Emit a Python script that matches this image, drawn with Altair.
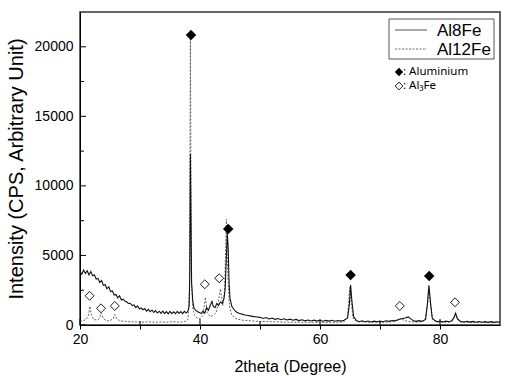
import altair as alt
import pandas as pd

# ---- data ----
al8fe = [
    (20.0, 3850), (20.3, 3650), (20.6, 3950), (20.9, 3700), (21.2, 3900), (21.5, 3600),
    (21.8, 3850), (22.1, 3550), (22.4, 3600), (22.7, 3300), (23.0, 3350), (23.3, 3050),
    (23.6, 3200), (23.9, 2850), (24.2, 2900), (24.5, 2600), (24.8, 2750), (25.1, 2400),
    (25.4, 2450), (25.7, 2150), (26.0, 2200), (26.3, 1950), (26.6, 2100), (26.9, 1800),
    (27.2, 1850), (27.5, 1700), (27.8, 1650), (28.1, 1550), (28.4, 1550), (28.7, 1400),
    (29.0, 1450), (29.3, 1250), (29.6, 1380), (29.9, 1150), (30.2, 1220), (30.5, 1100),
    (30.8, 1180), (31.1, 1000), (31.4, 1120), (31.7, 950), (32.0, 1080), (32.3, 900),
    (32.6, 1030), (32.9, 860), (33.2, 990), (33.5, 830), (33.8, 1000), (34.1, 820),
    (34.4, 960), (34.7, 800), (35.0, 980), (35.3, 820), (35.6, 950), (35.9, 810),
    (36.2, 980), (36.5, 830), (36.8, 960), (37.1, 820), (37.4, 980), (37.7, 860),
    (38.0, 1000), (38.2, 1400), (38.3, 4000), (38.4, 12300), (38.5, 7400), (38.6, 3000),
    (38.8, 1700), (39.0, 1200), (39.3, 1050), (39.6, 950), (39.9, 900), (40.2, 820),
    (40.5, 1000), (40.8, 850), (41.1, 1250), (41.4, 1050), (41.7, 1400), (42.0, 1700),
    (42.2, 1350), (42.5, 1250), (42.8, 1550), (43.1, 1400), (43.4, 1650), (43.7, 1550),
    (44.0, 1900), (44.2, 2600), (44.4, 5000), (44.55, 6600), (44.7, 5500), (44.85, 3000),
    (45.0, 1900), (45.3, 1350), (45.6, 1150), (46.0, 950), (46.5, 850), (47.0, 780),
    (47.5, 720), (48.0, 680), (48.5, 640), (49.0, 600), (49.5, 580), (50.0, 550),
    (50.5, 470), (51.0, 540), (51.5, 430), (52.0, 500), (52.5, 410), (53.0, 470),
    (53.5, 380), (54.0, 450), (54.5, 360), (55.0, 420), (55.5, 340), (56.0, 400),
    (56.5, 320), (57.0, 380), (57.5, 300), (58.0, 360), (58.5, 290), (59.0, 350),
    (59.5, 280), (60.0, 340), (60.5, 270), (61.0, 330), (61.5, 280), (62.0, 340),
    (62.5, 270), (63.0, 320), (63.5, 280), (64.0, 340), (64.6, 500), (64.9, 1500),
    (65.1, 2880), (65.3, 1800), (65.6, 600), (66.0, 350), (66.5, 240), (67.0, 300),
    (67.5, 230), (68.0, 290), (68.5, 220), (69.0, 280), (69.5, 230), (70.0, 290),
    (70.5, 240), (71.0, 300), (71.5, 260), (72.0, 320), (72.5, 300), (73.0, 380),
    (73.6, 450), (74.2, 500), (74.7, 580), (75.2, 420), (75.6, 300), (76.0, 260),
    (76.5, 310), (77.0, 260), (77.6, 400), (77.9, 1500), (78.15, 2850), (78.4, 1700),
    (78.7, 500), (79.2, 300), (79.6, 230), (80.0, 290), (80.5, 220), (81.0, 280),
    (81.5, 230), (82.0, 300), (82.4, 600), (82.6, 850), (82.9, 450), (83.4, 260),
    (84.0, 220), (84.5, 270), (85.0, 210), (85.5, 260), (86.0, 200), (86.5, 250),
    (87.0, 200), (87.5, 240), (88.0, 190), (88.5, 240), (89.0, 190), (89.5, 230),
    (90.0, 200),
]

al12fe = [
    (20.0, 250), (20.5, 300), (21.0, 400), (21.4, 700), (21.65, 1350), (21.9, 700),
    (22.3, 400), (22.8, 350), (23.2, 450), (23.55, 850), (23.9, 450), (24.5, 300),
    (25.0, 320), (25.5, 450), (25.8, 750), (26.1, 450), (26.6, 300), (27.5, 260),
    (28.5, 230), (29.5, 220), (30.5, 200), (31.5, 230), (32.5, 200), (33.5, 220),
    (34.5, 200), (35.5, 240), (36.5, 200), (37.5, 260), (38.0, 400), (38.25, 2500),
    (38.4, 20800), (38.55, 3500), (38.8, 1200), (39.1, 700), (39.5, 500), (40.0, 450),
    (40.5, 700), (40.9, 2000), (41.2, 900), (41.7, 600), (42.2, 700), (42.7, 900),
    (43.0, 1500), (43.4, 2600), (43.8, 1400), (44.1, 2500), (44.4, 7600), (44.6, 4000),
    (44.9, 1400), (45.3, 700), (46.0, 450), (47.0, 350), (48.5, 300), (50.0, 250),
    (52.5, 230), (55.0, 200), (57.5, 200), (60.0, 190), (62.5, 190), (64.0, 220),
    (64.6, 600), (64.95, 2700), (65.2, 1700), (65.5, 500), (66.0, 250), (68.0, 200),
    (70.0, 190), (72.0, 220), (73.0, 350), (73.5, 480), (74.0, 330), (75.0, 230),
    (76.5, 200), (77.5, 350), (77.9, 1400), (78.15, 2700), (78.4, 1500), (78.8, 350),
    (80.0, 200), (81.5, 200), (82.2, 450), (82.55, 800), (82.9, 400), (83.5, 200),
    (85.0, 180), (87.5, 170), (90.0, 170),
]

aluminium_x = [38.5, 44.7, 65.1, 78.2]
aluminium_y = [20850, 6900, 3600, 3520]
al3fe_x = [21.6, 23.5, 25.8, 40.8, 43.2, 73.3, 82.5]
al3fe_y = [2100, 1200, 1370, 2930, 3360, 1370, 1630]

x_all = [20, 30, 40, 50, 60, 70, 80]
x_major = [20, 40, 60, 80]
x_minor = [30, 50, 70]
y_major = [0, 5000, 10000, 15000, 20000]
y_minor = [2500, 7500, 12500, 17500]

W, H = 420, 313
FONT = "Liberation Sans"

df8 = pd.DataFrame(al8fe, columns=["x", "y"])
df12 = pd.DataFrame(al12fe, columns=["x", "y"])
df_al = pd.DataFrame({"x": aluminium_x, "y": aluminium_y})
df_a3 = pd.DataFrame({"x": al3fe_x, "y": al3fe_y})

xs = alt.Scale(domain=[20, 90], nice=False, zero=False)
ys = alt.Scale(domain=[0, 22500], nice=False)

x_axis = alt.Axis(
    values=x_all, labelExpr="datum.value % 20 == 0 ? datum.label : ''",
    title="2theta (Degree)", grid=False, tickSize=4, tickColor="black",
    labelPadding=3, labelFontSize=14, labelFont=FONT, labelColor="black",
    titleFontSize=16, titleFont=FONT, titleFontWeight="normal", titleColor="black",
    titlePadding=12, domainColor="black", labelFlush=False,
)
y_axis = alt.Axis(
    values=y_major, format="d", title="Intensity (CPS, Arbitrary Unit)", grid=False,
    ticks=False, labelPadding=7, labelFontSize=14, labelFont=FONT, labelColor="black",
    titleFontSize=20, titleFont=FONT, titleFontWeight="normal", titleColor="black",
    titlePadding=8, domainColor="black",
)


def X(field="x"):
    return alt.X(f"{field}:Q", scale=xs, axis=x_axis, title="2theta (Degree)")


def Y(field="y"):
    return alt.Y(f"{field}:Q", scale=ys, axis=y_axis, title="Intensity (CPS, Arbitrary Unit)")


line12 = alt.Chart(df12).mark_line(
    color="#666666", strokeWidth=1, strokeDash=[2, 1.5]
).encode(x=X(), y=Y())

line8 = alt.Chart(df8).mark_line(color="#111111", strokeWidth=1.1).encode(x=X(), y=Y())

pts_al = alt.Chart(df_al).mark_point(
    shape="diamond", size=110, filled=True, color="black", opacity=1
).encode(x=X(), y=Y())

pts_a3 = alt.Chart(df_a3).mark_point(
    shape="diamond", size=80, filled=False, stroke="black", fill="white",
    fillOpacity=1, strokeWidth=0.9, opacity=1
).encode(x=X(), y=Y())

# inward ticks
xt_major = alt.Chart(pd.DataFrame({"x": x_major})).mark_rule(color="black", strokeWidth=1).encode(
    x=X(), y=alt.value(H), y2=alt.value(H - 6))
xt_minor = alt.Chart(pd.DataFrame({"x": x_minor})).mark_rule(color="black", strokeWidth=1).encode(
    x=X(), y=alt.value(H), y2=alt.value(H - 4))
yt_major = alt.Chart(pd.DataFrame({"y": y_major})).mark_rule(color="black", strokeWidth=1).encode(
    y=Y(), x=alt.value(0), x2=alt.value(6))
yt_minor = alt.Chart(pd.DataFrame({"y": y_minor})).mark_rule(color="black", strokeWidth=1).encode(
    y=Y(), x=alt.value(0), x2=alt.value(4))

# legend (drawn)
one = pd.DataFrame({"k": [0]})
leg_box = alt.Chart(one).mark_rect(fill="white", stroke="#555", strokeWidth=1).encode(
    x=alt.value(309), x2=alt.value(414), y=alt.value(7), y2=alt.value(47))
leg_l1 = alt.Chart(one).mark_rule(color="#555", strokeWidth=1).encode(
    x=alt.value(315), x2=alt.value(347), y=alt.value(18))
leg_l2 = alt.Chart(one).mark_rule(color="#6a6a6a", strokeWidth=1, strokeDash=[2, 1.5]).encode(
    x=alt.value(315), x2=alt.value(347), y=alt.value(37))
leg_t1 = alt.Chart(one).mark_text(
    text="Al8Fe", align="left", baseline="middle", fontSize=17, font=FONT, color="black"
).encode(x=alt.value(357), y=alt.value(19))
leg_t2 = alt.Chart(one).mark_text(
    text="Al12Fe", align="left", baseline="middle", fontSize=17, font=FONT, color="black"
).encode(x=alt.value(357), y=alt.value(38))

leg_d1 = alt.Chart(one).mark_point(shape="diamond", size=70, filled=True, color="black", opacity=1).encode(
    x=alt.value(319), y=alt.value(60))
leg_d2 = alt.Chart(one).mark_point(shape="diamond", size=60, filled=False, stroke="black",
                                   strokeWidth=0.9, opacity=1).encode(
    x=alt.value(319), y=alt.value(74))
leg_s1 = alt.Chart(one).mark_text(
    text=": Aluminium", align="left", baseline="middle", fontSize=11.5, font="Noto Sans", color="black"
).encode(x=alt.value(323), y=alt.value(60))
leg_s2 = alt.Chart(one).mark_text(
    text=": Al\u2083Fe", align="left", baseline="middle", fontSize=11.5, font="Noto Sans", color="black"
).encode(x=alt.value(323), y=alt.value(74))

chart = alt.layer(
    line12, line8, pts_al, pts_a3, xt_major, xt_minor, yt_major, yt_minor,
    leg_box, leg_l1, leg_l2, leg_t1, leg_t2, leg_d1, leg_d2, leg_s1, leg_s2,
).properties(
    width=W, height=H,
    autosize=alt.AutoSizeParams(type="none"),
    padding={"left": 80, "top": 12, "right": 11, "bottom": 51},
    background="white",
).configure_view(stroke="#333", strokeWidth=1.5)

chart.save("out.html", embed_options={"renderer": "svg", "actions": False})
